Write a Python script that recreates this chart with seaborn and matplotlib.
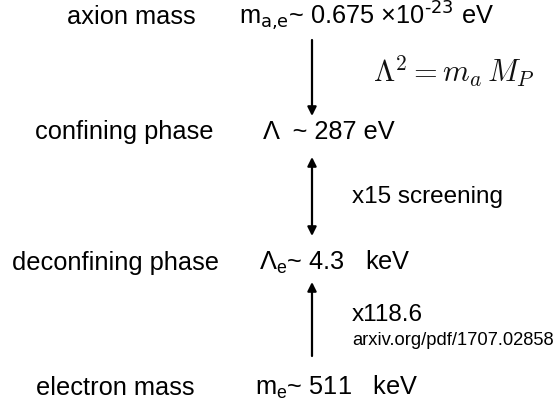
import matplotlib
matplotlib.use('Agg')
import matplotlib.pyplot as plt
import seaborn as sns

# ---------------- data ----------------
phase_names = ['axion mass', 'confining phase', 'deconfining phase', 'electron mass']
phase_values = [
    r'm$\mathregular{_{\text{a,e}}}$~ 0.675 ×10$\mathregular{^{\text{-23}}}$ eV',
    r'Λ  ~ 287 eV',
    r'Λ$\mathregular{_e}$~ 4.3   keV',
    r'm$\mathregular{_e}$~ 511   keV',
]
# arrow kinds between consecutive rows
step_styles = ['down', 'both', 'up']
step_labels = [r'$\Lambda^2 = m_a\,M_P$', 'x15 screening', 'x118.6']
source_note = 'arxiv.org/pdf/1707.02858'

# ---------------- layout (pixels, top-left origin) ----------------
W, H = 555, 408
name_x = [67, 35, 12, 36]
value_x = [239, 263, 259, 255]
row_y = [24, 139, 270, 395]
arrow_x = 312
arrow_span = [(40, 116), (157, 236), (356, 282)]  # (tail, head)

sns.set_style('white')
plt.rcParams['font.family'] = ['Liberation Sans', 'DejaVu Sans']

fig = plt.figure(figsize=(W / 100, H / 100), dpi=100)
ax = fig.add_axes([0, 0, 1, 1])
ax.set_xlim(0, W)
ax.set_ylim(H, 0)
ax.axis('off')

fs = 18.3
for name, val, nx, vx, y in zip(phase_names, phase_values, name_x, value_x, row_y):
    ax.text(nx, y, name, fontsize=fs, ha='left', va='baseline', color='black')
    ax.text(vx, y, val, fontsize=fs, ha='left', va='baseline', color='black')

for style, (y0, y1) in zip(step_styles, arrow_span):
    arrowstyle = '<|-|>' if style == 'both' else '-|>'
    ax.annotate('', xy=(arrow_x, y1), xytext=(arrow_x, y0),
                arrowprops=dict(arrowstyle=arrowstyle, color='black', lw=1.6,
                                mutation_scale=13, shrinkA=0, shrinkB=0))

ax.text(373, 83, step_labels[0], fontsize=22, ha='left', va='baseline',
        math_fontfamily='cm', color='#111111')
ax.text(352, 203, step_labels[1], fontsize=17.5, ha='left', va='baseline', color='black')
ax.text(352, 321, step_labels[2], fontsize=17.5, ha='left', va='baseline', color='black')
ax.text(352, 345, source_note, fontsize=13.2, ha='left', va='baseline', color='black')

fig.savefig('out.png', dpi=100)
